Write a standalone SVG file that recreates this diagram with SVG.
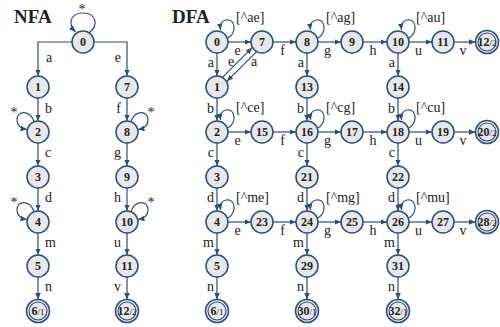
<svg xmlns="http://www.w3.org/2000/svg" width="500" height="327" viewBox="0 0 500 327">
<style>
.n circle{fill:#e8e8e8;stroke:#2b4d80;stroke-width:1.5}
.f .o{fill:#e8e8e8;stroke:#2b4d80;stroke-width:1.6}
.f .i{fill:none;stroke:#2b4d80;stroke-width:1.1}
.t{font-family:"Liberation Serif","Times New Roman",serif;font-weight:bold;font-size:12px;text-anchor:middle;fill:#222}
.s{font-weight:normal;font-size:9px}
.e path,.e line{fill:none;stroke:#2b4d80;stroke-width:1.2;marker-end:url(#ah)}
.l text{font-family:"Liberation Serif","Times New Roman",serif;font-size:14px;fill:#222}
.m{text-anchor:middle}
.r{text-anchor:end}
.h{font-family:"Liberation Serif","Times New Roman",serif;font-weight:bold;font-size:19px;fill:#222}
</style>
<defs>
<marker id="ah" markerWidth="7" markerHeight="6" refX="6.5" refY="2.75" orient="auto" markerUnits="userSpaceOnUse"><path d="M0,0 L6.5,2.75 L0,5.5 z" fill="#2b4d80"/></marker>
</defs>
<rect width="500" height="327" fill="#fff"/>
<text class="h" x="14" y="23">NFA</text>
<text class="h" x="172" y="23">DFA</text>

<g id="connectors" class="e">
<path d="M72,42 H38 V76"/>
<path d="M94,42 H127 V76"/>
<line x1="38" y1="98" x2="38" y2="121"/>
<line x1="38" y1="143" x2="38" y2="166"/>
<line x1="38" y1="188" x2="38" y2="211"/>
<line x1="38" y1="233" x2="38" y2="255"/>
<line x1="38" y1="277" x2="38" y2="299.5"/>
<line x1="127" y1="98" x2="127" y2="121"/>
<line x1="127" y1="143" x2="127" y2="166"/>
<line x1="127" y1="188" x2="127" y2="211"/>
<line x1="127" y1="233" x2="127" y2="255"/>
<line x1="127" y1="277" x2="127" y2="299.5"/>
<path d="M89,33 C100,24 95,13 83,13 C71,13 67,23 75.5,32"/>
<path d="M34,121.5 C30,110 17,110 17,120 C17,126 21,128.5 27,129.5"/>
<path d="M131,121.5 C135,110 148,110 148,120 C148,126 144,128.5 138,129.5"/>
<path d="M34,211.5 C30,200 17,200 17,210 C17,216 21,218.5 27,219.5"/>
<path d="M131,211.5 C135,200 148,200 148,210 C148,216 144,218.5 138,219.5"/>
<line x1="228" y1="42" x2="251" y2="42"/>
<line x1="273" y1="42" x2="296" y2="42"/>
<line x1="318" y1="42" x2="341" y2="42"/>
<line x1="363" y1="42" x2="387" y2="42"/>
<line x1="409" y1="42" x2="432" y2="42"/>
<line x1="454" y1="42" x2="475.5" y2="42"/>
<line x1="228" y1="132" x2="251" y2="132"/>
<line x1="273" y1="132" x2="296" y2="132"/>
<line x1="318" y1="132" x2="341" y2="132"/>
<line x1="363" y1="132" x2="387" y2="132"/>
<line x1="409" y1="132" x2="432" y2="132"/>
<line x1="454" y1="132" x2="475.5" y2="132"/>
<line x1="228" y1="222" x2="251" y2="222"/>
<line x1="273" y1="222" x2="296" y2="222"/>
<line x1="318" y1="222" x2="341" y2="222"/>
<line x1="363" y1="222" x2="387" y2="222"/>
<line x1="409" y1="222" x2="432" y2="222"/>
<line x1="454" y1="222" x2="475.5" y2="222"/>
<line x1="217" y1="53" x2="217" y2="76"/>
<line x1="217" y1="98" x2="217" y2="121"/>
<line x1="217" y1="143" x2="217" y2="166"/>
<line x1="217" y1="188" x2="217" y2="211"/>
<line x1="217" y1="233" x2="217" y2="255"/>
<line x1="217" y1="277" x2="217" y2="299.5"/>
<line x1="307" y1="53" x2="307" y2="76"/>
<line x1="307" y1="98" x2="307" y2="121"/>
<line x1="307" y1="143" x2="307" y2="166"/>
<line x1="307" y1="188" x2="307" y2="211"/>
<line x1="307" y1="233" x2="307" y2="255"/>
<line x1="307" y1="277" x2="307" y2="299.5"/>
<line x1="398" y1="53" x2="398" y2="76"/>
<line x1="398" y1="98" x2="398" y2="121"/>
<line x1="398" y1="143" x2="398" y2="166"/>
<line x1="398" y1="188" x2="398" y2="211"/>
<line x1="398" y1="233" x2="398" y2="255"/>
<line x1="398" y1="277" x2="398" y2="299.5"/>
<line x1="222.7" y1="77.1" x2="252.1" y2="47.7"/>
<line x1="256.3" y1="51.9" x2="226.9" y2="81.3"/>
<path d="M227.5,38 C237,34 236,18 226,20 C221,21 220,26 220.5,30"/>
<path d="M317.5,38 C327,34 326,18 316,20 C311,21 310,26 310.5,30"/>
<path d="M408.5,38 C418,34 417,18 407,20 C402,21 401,26 401.5,30"/>
<path d="M227.5,128 C237,124 236,108 226,110 C221,111 220,116 220.5,120"/>
<path d="M317.5,128 C327,124 326,108 316,110 C311,111 310,116 310.5,120"/>
<path d="M408.5,128 C418,124 417,108 407,110 C402,111 401,116 401.5,120"/>
<path d="M227.5,218 C237,214 236,198 226,200 C221,201 220,206 220.5,210"/>
<path d="M317.5,218 C327,214 326,198 316,200 C311,201 310,206 310.5,210"/>
<path d="M408.5,218 C418,214 417,198 407,200 C402,201 401,206 401.5,210"/>
</g>

<g id="labels" class="l">
<text x="14" y="117" class="m">*</text>
<text x="82" y="14" class="m">*</text>
<text x="151" y="117" class="m">*</text>
<text x="14" y="207" class="m">*</text>
<text x="151" y="207" class="m">*</text>
<text x="46" y="62">a</text>
<text x="45" y="113">b</text>
<text x="45" y="157">c</text>
<text x="45" y="202">d</text>
<text x="45" y="247">m</text>
<text x="45" y="291">n</text>
<text x="121" y="62" class="r">e</text>
<text x="121" y="113" class="r">f</text>
<text x="121" y="157" class="r">g</text>
<text x="121" y="202" class="r">h</text>
<text x="121" y="247" class="r">u</text>
<text x="121" y="291" class="r">v</text>
<text x="214" y="67" class="r">a</text>
<text x="214" y="113" class="r">b</text>
<text x="214" y="157" class="r">c</text>
<text x="214" y="202" class="r">d</text>
<text x="214" y="247" class="r">m</text>
<text x="214" y="291" class="r">n</text>
<text x="304" y="67" class="r">a</text>
<text x="304" y="113" class="r">b</text>
<text x="304" y="157" class="r">c</text>
<text x="304" y="202" class="r">d</text>
<text x="304" y="247" class="r">m</text>
<text x="304" y="291" class="r">n</text>
<text x="395" y="67" class="r">a</text>
<text x="395" y="113" class="r">b</text>
<text x="395" y="157" class="r">c</text>
<text x="395" y="202" class="r">d</text>
<text x="395" y="247" class="r">m</text>
<text x="395" y="291" class="r">n</text>
<text x="237.5" y="55" class="m">e</text>
<text x="282.5" y="55" class="m">f</text>
<text x="327.5" y="55" class="m">g</text>
<text x="373" y="55" class="m">h</text>
<text x="418.5" y="55" class="m">u</text>
<text x="463" y="55" class="m">v</text>
<text x="237.5" y="145" class="m">e</text>
<text x="282.5" y="145" class="m">f</text>
<text x="327.5" y="145" class="m">g</text>
<text x="373" y="145" class="m">h</text>
<text x="418.5" y="145" class="m">u</text>
<text x="463" y="145" class="m">v</text>
<text x="237.5" y="235" class="m">e</text>
<text x="282.5" y="235" class="m">f</text>
<text x="327.5" y="235" class="m">g</text>
<text x="373" y="235" class="m">h</text>
<text x="418.5" y="235" class="m">u</text>
<text x="463" y="235" class="m">v</text>
<text x="231" y="66" class="m">e</text>
<text x="254" y="66" class="m">a</text>
<text x="236" y="22">[^ae]</text>
<text x="326" y="22">[^ag]</text>
<text x="416" y="22">[^au]</text>
<text x="236" y="112">[^ce]</text>
<text x="326" y="112">[^cg]</text>
<text x="416" y="112">[^cu]</text>
<text x="236" y="202">[^me]</text>
<text x="326" y="202">[^mg]</text>
<text x="416" y="202">[^mu]</text>
</g>

<g id="nfa0" class="n"><circle cx="83" cy="42" r="11"/><text class="t" x="83" y="46.2">0</text></g>
<g id="nfa1" class="n"><circle cx="38" cy="87" r="11"/><text class="t" x="38" y="91.2">1</text></g>
<g id="nfa2" class="n"><circle cx="38" cy="132" r="11"/><text class="t" x="38" y="136.2">2</text></g>
<g id="nfa3" class="n"><circle cx="38" cy="177" r="11"/><text class="t" x="38" y="181.2">3</text></g>
<g id="nfa4" class="n"><circle cx="38" cy="222" r="11"/><text class="t" x="38" y="226.2">4</text></g>
<g id="nfa5" class="n"><circle cx="38" cy="266" r="11"/><text class="t" x="38" y="270.2">5</text></g>
<g id="nfa6" class="f"><circle class="o" cx="38" cy="311" r="11.5"/><circle class="i" cx="38" cy="311" r="9"/><text class="t" x="38" y="315.2">6<tspan class="s">/1</tspan></text></g>
<g id="nfa7" class="n"><circle cx="127" cy="87" r="11"/><text class="t" x="127" y="91.2">7</text></g>
<g id="nfa8" class="n"><circle cx="127" cy="132" r="11"/><text class="t" x="127" y="136.2">8</text></g>
<g id="nfa9" class="n"><circle cx="127" cy="177" r="11"/><text class="t" x="127" y="181.2">9</text></g>
<g id="nfa10" class="n"><circle cx="127" cy="222" r="11"/><text class="t" x="127" y="226.2">10</text></g>
<g id="nfa11" class="n"><circle cx="127" cy="266" r="11"/><text class="t" x="127" y="270.2">11</text></g>
<g id="nfa12" class="f"><circle class="o" cx="127" cy="311" r="11.5"/><circle class="i" cx="127" cy="311" r="9"/><text class="t" x="127" y="315.2">12<tspan class="s">/2</tspan></text></g>

<g id="d0" class="n"><circle cx="217" cy="42" r="11"/><text class="t" x="217" y="46.2">0</text></g>
<g id="d7" class="n"><circle cx="262" cy="42" r="11"/><text class="t" x="262" y="46.2">7</text></g>
<g id="d8" class="n"><circle cx="307" cy="42" r="11"/><text class="t" x="307" y="46.2">8</text></g>
<g id="d9" class="n"><circle cx="352" cy="42" r="11"/><text class="t" x="352" y="46.2">9</text></g>
<g id="d10" class="n"><circle cx="398" cy="42" r="11"/><text class="t" x="398" y="46.2">10</text></g>
<g id="d11" class="n"><circle cx="443" cy="42" r="11"/><text class="t" x="443" y="46.2">11</text></g>
<g id="d12" class="f"><circle class="o" cx="487" cy="42" r="11.5"/><circle class="i" cx="487" cy="42" r="9"/><text class="t" x="487" y="46.2">12<tspan class="s">/2</tspan></text></g>
<g id="d1" class="n"><circle cx="217" cy="87" r="11"/><text class="t" x="217" y="91.2">1</text></g>
<g id="d13" class="n"><circle cx="307" cy="87" r="11"/><text class="t" x="307" y="91.2">13</text></g>
<g id="d14" class="n"><circle cx="398" cy="87" r="11"/><text class="t" x="398" y="91.2">14</text></g>
<g id="d2" class="n"><circle cx="217" cy="132" r="11"/><text class="t" x="217" y="136.2">2</text></g>
<g id="d15" class="n"><circle cx="262" cy="132" r="11"/><text class="t" x="262" y="136.2">15</text></g>
<g id="d16" class="n"><circle cx="307" cy="132" r="11"/><text class="t" x="307" y="136.2">16</text></g>
<g id="d17" class="n"><circle cx="352" cy="132" r="11"/><text class="t" x="352" y="136.2">17</text></g>
<g id="d18" class="n"><circle cx="398" cy="132" r="11"/><text class="t" x="398" y="136.2">18</text></g>
<g id="d19" class="n"><circle cx="443" cy="132" r="11"/><text class="t" x="443" y="136.2">19</text></g>
<g id="d20" class="f"><circle class="o" cx="487" cy="132" r="11.5"/><circle class="i" cx="487" cy="132" r="9"/><text class="t" x="487" y="136.2">20<tspan class="s">/2</tspan></text></g>
<g id="d3" class="n"><circle cx="217" cy="177" r="11"/><text class="t" x="217" y="181.2">3</text></g>
<g id="d21" class="n"><circle cx="307" cy="177" r="11"/><text class="t" x="307" y="181.2">21</text></g>
<g id="d22" class="n"><circle cx="398" cy="177" r="11"/><text class="t" x="398" y="181.2">22</text></g>
<g id="d4" class="n"><circle cx="217" cy="222" r="11"/><text class="t" x="217" y="226.2">4</text></g>
<g id="d23" class="n"><circle cx="262" cy="222" r="11"/><text class="t" x="262" y="226.2">23</text></g>
<g id="d24" class="n"><circle cx="307" cy="222" r="11"/><text class="t" x="307" y="226.2">24</text></g>
<g id="d25" class="n"><circle cx="352" cy="222" r="11"/><text class="t" x="352" y="226.2">25</text></g>
<g id="d26" class="n"><circle cx="398" cy="222" r="11"/><text class="t" x="398" y="226.2">26</text></g>
<g id="d27" class="n"><circle cx="443" cy="222" r="11"/><text class="t" x="443" y="226.2">27</text></g>
<g id="d28" class="f"><circle class="o" cx="487" cy="222" r="11.5"/><circle class="i" cx="487" cy="222" r="9"/><text class="t" x="487" y="226.2">28<tspan class="s">/2</tspan></text></g>
<g id="d5" class="n"><circle cx="217" cy="266" r="11"/><text class="t" x="217" y="270.2">5</text></g>
<g id="d29" class="n"><circle cx="307" cy="266" r="11"/><text class="t" x="307" y="270.2">29</text></g>
<g id="d31" class="n"><circle cx="398" cy="266" r="11"/><text class="t" x="398" y="270.2">31</text></g>
<g id="d6" class="f"><circle class="o" cx="217" cy="311" r="11.5"/><circle class="i" cx="217" cy="311" r="9"/><text class="t" x="217" y="315.2">6<tspan class="s">/1</tspan></text></g>
<g id="d30" class="f"><circle class="o" cx="307" cy="311" r="11.5"/><circle class="i" cx="307" cy="311" r="9"/><text class="t" x="307" y="315.2">30<tspan class="s">/1</tspan></text></g>
<g id="d32" class="f"><circle class="o" cx="398" cy="311" r="11.5"/><circle class="i" cx="398" cy="311" r="9"/><text class="t" x="398" y="315.2">32<tspan class="s">/1</tspan></text></g>
</svg>
